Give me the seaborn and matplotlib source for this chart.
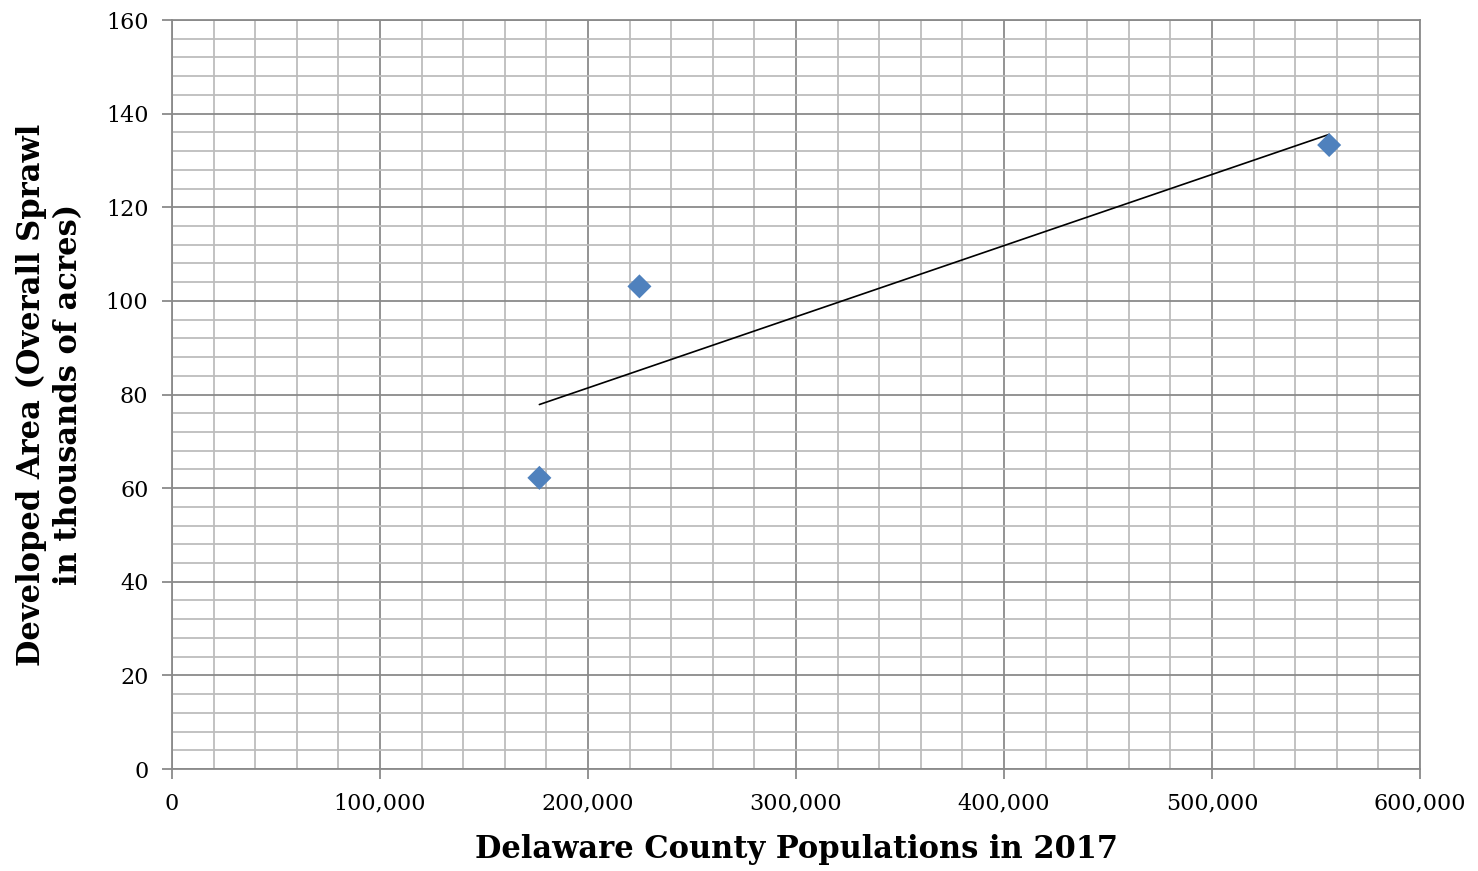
import numpy as np
import pandas as pd
import matplotlib
matplotlib.use("Agg")
import matplotlib.pyplot as plt
from matplotlib.ticker import MultipleLocator, FuncFormatter
import seaborn as sns

# Data
counties = ["Kent", "Sussex", "New Castle"]
population_2017 = [176600, 224700, 556300]
developed_area = [62.2, 103.1, 133.3]

x_label = "Delaware County Populations in 2017"
y_label = "Developed Area (Overall Sprawl\nin thousands of acres)"

df = pd.DataFrame({"county": counties, "pop": population_2017, "area": developed_area})

sns.set_style("white")
plt.rcParams['font.family'] = ['DejaVu Serif']
plt.rcParams['text.color'] = 'black'
plt.rcParams['axes.labelcolor'] = 'black'
plt.rcParams['xtick.labelcolor'] = 'black'
plt.rcParams['ytick.labelcolor'] = 'black'

fig = plt.figure(figsize=(14.78, 8.71), dpi=100)
ax = fig.add_axes([0.1164, 0.1171, 0.8444, 0.8599])

# trendline (linear fit over the data range)
sns.regplot(data=df, x="pop", y="area", scatter=False, ci=None, truncate=True,
            line_kws={"color": "black", "linewidth": 1.2}, ax=ax)
sns.scatterplot(data=df, x="pop", y="area", marker="D", s=150, color="#4F81BD",
                edgecolor="none", zorder=5, ax=ax)

ax.set_xlim(0, 600000)
ax.set_ylim(0, 160)
ax.xaxis.set_major_locator(MultipleLocator(100000))
ax.xaxis.set_minor_locator(MultipleLocator(20000))
ax.yaxis.set_major_locator(MultipleLocator(20))
ax.yaxis.set_minor_locator(MultipleLocator(4))
ax.xaxis.set_major_formatter(FuncFormatter(lambda v, p: f"{int(v):,}"))

ax.grid(which="major", color="#8a8a8a", linewidth=1.3)
ax.grid(which="minor", color="#bdbdbd", linewidth=1.3)
ax.set_axisbelow(True)

for side in ["left", "bottom", "top", "right"]:
    ax.spines[side].set_color("#8a8a8a")
    ax.spines[side].set_linewidth(1.3)

ax.tick_params(axis="both", which="major", direction="out", length=7, width=1.3,
               color="#8a8a8a", labelsize=16, pad=10)
ax.tick_params(axis="both", which="minor", length=0)
ax.tick_params(axis="x", bottom=True)
ax.tick_params(axis="y", left=True)

ax.set_xlabel(x_label, fontsize=22, fontweight="bold", labelpad=14)
ax.set_ylabel(y_label, fontsize=22, fontweight="bold", labelpad=16, linespacing=1.25)

fig.savefig("out.png", dpi=100)
